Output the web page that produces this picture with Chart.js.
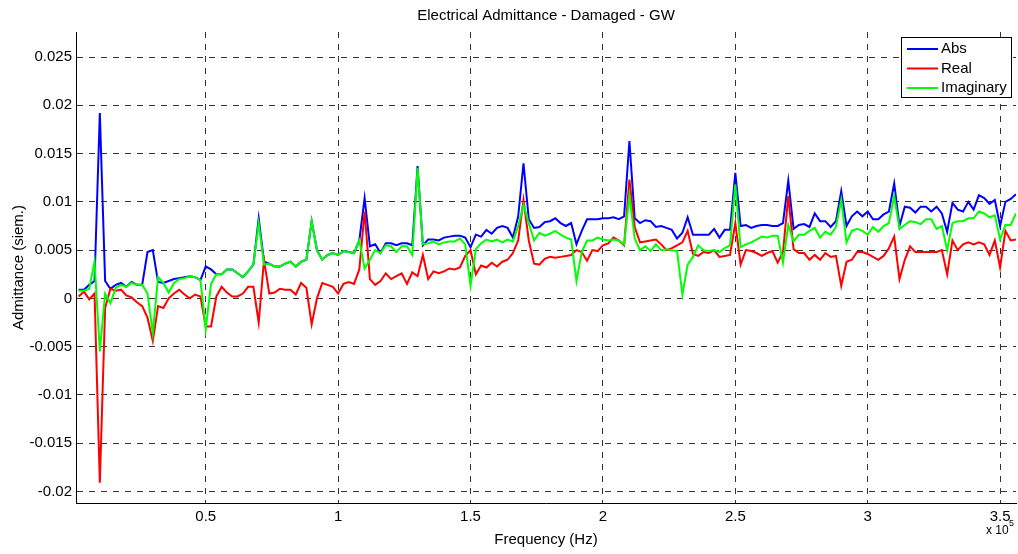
<!DOCTYPE html>
<html>
<head>
<meta charset="utf-8">
<title>Electrical Admittance - Damaged - GW</title>
<script src="https://cdn.jsdelivr.net/npm/chart.js@4.4.0/dist/chart.umd.min.js"></script>
<style>
  html, body { margin: 0; padding: 0; background: #fff; }
  #admChart { display: block; }
</style>
</head>
<body>
<canvas id="admChart" width="1018" height="554"></canvas>
<script>
// sweep: 2 kHz .. 356 kHz, one reading every 2 kHz (values in milli-siemens)
const freqStartHz = 2000;
const freqStepHz = 2000;

const absMilliS = [
  0.9, 0.9, 1.4, 1.8, 19.2, 1.8, 1.0, 1.4, 1.6, 1.2,
  1.7, 1.4, 1.4, 4.8, 5.0, 1.7, 1.6, 1.8, 2.0, 2.1,
  2.2, 2.3, 2.2, 1.9, 3.3, 3.0, 2.5, 2.5, 3.0, 3.0,
  2.6, 2.2, 2.8, 3.5, 8.3, 3.8, 3.6, 3.3, 3.3, 3.6,
  3.8, 3.3, 3.8, 4.0, 8.0, 5.0, 4.0, 4.5, 4.7, 4.5,
  4.9, 4.8, 4.7, 6.0, 10.4, 5.4, 5.6, 4.7, 5.7, 5.7,
  5.5, 5.7, 5.7, 5.5, 13.7, 5.5, 6.1, 6.1, 6.0, 6.3,
  6.4, 6.5, 6.5, 6.3, 5.3, 6.6, 6.4, 7.1, 6.7, 7.3,
  7.5, 7.3, 6.3, 8.5, 14.0, 8.2, 7.3, 7.4, 7.9, 8.0,
  8.3, 7.8, 7.5, 7.8, 5.6, 7.0, 8.2, 8.2, 8.2, 8.3,
  8.3, 8.4, 8.2, 8.5, 16.3, 8.3, 7.8, 8.1, 8.0, 7.4,
  7.5, 7.3, 7.1, 6.2, 6.8, 8.4, 6.6, 6.6, 6.6, 6.6,
  7.2, 6.3, 7.1, 7.1, 13.0, 7.5, 7.6, 7.3, 7.5, 7.6,
  7.6, 7.5, 7.5, 7.8, 12.2, 7.2, 7.6, 7.7, 7.4, 8.8,
  8.0, 8.0, 7.4, 8.0, 11.1, 7.5, 8.5, 9.0, 8.5, 9.0,
  8.2, 8.2, 8.7, 9.0, 11.9, 7.5, 9.5, 9.4, 8.9, 9.5,
  9.5, 9.0, 9.5, 8.8, 6.9, 9.9, 9.2, 9.0, 10.0, 9.2,
  10.7, 10.4, 9.8, 10.2, 7.5, 10.0, 10.3, 10.8
];

const realMilliS = [
  0.2, 0.7, -0.1, 0.5, -19.1, -1.0, 1.0, 0.8, 0.9, 0.3,
  0.1, -0.4, -0.8, -2.0, -4.4, -0.8, -1.0, 0.0, 0.5, 0.9,
  0.4, 0.0, 0.4, 0.2, -2.9, -2.9, 0.2, 1.2, 0.6, 0.2,
  0.2, 0.5, 1.2, 1.2, -2.5, 4.0, 0.5, 0.6, 1.0, 0.9,
  0.9, 0.4, 1.6, 1.1, -2.7, 0.0, 1.6, 1.4, 1.2, 0.5,
  1.5, 1.7, 1.5, 3.0, 9.0, 2.0, 1.4, 1.8, 2.6, 2.0,
  2.3, 2.6, 1.5, 2.7, 2.3, 4.5, 2.0, 2.8, 2.6, 2.8,
  3.1, 3.0, 3.2, 4.4, 5.0, 2.5, 3.4, 3.2, 3.7, 3.3,
  3.8, 4.0, 4.7, 6.0, 10.2, 6.0, 3.6, 3.5, 4.1, 4.3,
  4.2, 4.3, 4.4, 4.5, 5.0, 4.8, 3.9, 5.0, 4.9, 5.5,
  5.7, 6.3, 6.0, 5.5, 12.3, 7.4, 5.8, 5.9, 6.0, 6.1,
  5.6, 5.0, 5.2, 5.5, 5.8, 7.0, 4.6, 4.4, 4.8, 4.7,
  5.0, 4.3, 4.4, 4.5, 7.8, 3.5, 5.0, 4.9, 4.7, 4.4,
  4.7, 4.9, 3.7, 4.8, 10.6, 5.1, 4.7, 4.7, 4.0, 4.5,
  4.0, 4.7, 4.3, 4.4, 1.3, 3.8, 4.0, 4.8, 4.8, 4.6,
  4.3, 4.0, 4.4, 5.2, 6.4, 2.0, 4.0, 5.4, 4.8, 4.8,
  4.8, 4.8, 4.8, 5.0, 2.5, 6.0, 5.0, 5.6, 5.8, 5.6,
  5.8, 5.6, 4.5, 6.0, 3.2, 7.0, 6.0, 6.1
];

const imagMilliS = [
  0.8, 0.8, 1.0, 3.8, -5.5, 0.5, -0.5, 1.1, 1.4, 1.2,
  1.6, 1.4, 1.4, 0.5, -3.6, 2.2, 1.6, 0.6, 1.6, 2.0,
  2.1, 2.3, 2.2, 1.9, -3.2, 1.5, 2.5, 2.5, 3.0, 3.0,
  2.6, 2.2, 2.8, 3.5, 7.8, 3.5, 3.6, 3.3, 3.3, 3.6,
  3.8, 3.3, 3.8, 4.0, 8.0, 5.0, 4.0, 4.5, 4.7, 4.5,
  4.9, 4.8, 4.7, 6.0, 3.1, 4.0, 5.0, 4.7, 5.5, 5.4,
  4.8, 5.4, 5.4, 4.5, 13.5, 5.6, 5.7, 5.9, 5.6, 5.8,
  5.9, 5.9, 6.2, 5.6, 1.3, 5.1, 5.7, 6.1, 5.9, 6.1,
  5.8, 6.1, 5.9, 7.5, 9.7, 7.8, 6.0, 6.8, 6.5, 6.7,
  7.0, 6.6, 6.3, 6.1, 1.8, 4.8, 6.0, 6.0, 6.3, 6.1,
  6.0, 6.1, 6.0, 5.6, 10.7, 6.2, 5.0, 5.4, 4.9, 5.6,
  5.0, 5.1, 5.0, 4.9, 0.4, 3.5, 4.3, 5.5, 5.0, 4.9,
  5.0, 4.8, 5.2, 5.5, 11.8, 5.3, 5.6, 5.8, 6.1, 6.4,
  6.3, 6.5, 6.5, 3.7, 7.6, 5.9, 6.6, 6.6, 7.0, 7.3,
  6.3, 6.9, 6.6, 7.4, 10.2, 5.8, 7.0, 7.2, 7.0, 6.6,
  7.4, 6.9, 7.5, 7.8, 10.6, 7.2, 7.6, 8.0, 7.9, 7.7,
  8.2, 8.2, 7.2, 7.5, 5.0, 7.8, 8.0, 8.0, 8.3, 8.3,
  9.0, 8.8, 8.4, 8.6, 6.1, 7.6, 7.6, 8.8
];

const seriesNames = ['Abs', 'Real', 'Imaginary'];
const seriesColors = ['#0000ff', '#ff0000', '#00ff00'];

const xTickValues = [50000, 100000, 150000, 200000, 250000, 300000, 350000];
const xTickLabels = ['0.5', '1', '1.5', '2', '2.5', '3', '3.5'];
const yTickValues = [-0.02, -0.015, -0.01, -0.005, 0, 0.005, 0.01, 0.015, 0.02, 0.025];
const yTickLabels = ['-0.02', '-0.015', '-0.01', '-0.005', '0', '0.005', '0.01', '0.015', '0.02', '0.025'];

const titleText = 'Electrical Admittance - Damaged - GW';
const FONT = '"Liberation Sans", Arial, Helvetica, sans-serif';

const freqHz = absMilliS.map((_, i) => freqStartHz + i * freqStepHz);
const toPoints = vals => vals.map((v, i) => ({ x: freqHz[i], y: v / 1000 }));

Chart.defaults.font.family = FONT;
Chart.defaults.font.size = 15;
Chart.defaults.color = '#000';

// title, x10^5 exponent and the boxed legend, drawn the way matlab does it
const matlabBits = {
  id: 'matlabBits',
  afterDraw(chart) {
    const { ctx, chartArea: a } = chart;
    ctx.save();
    ctx.fillStyle = '#000';
    ctx.font = '15px ' + FONT;
    ctx.textAlign = 'center';
    ctx.textBaseline = 'middle';
    ctx.fillText(titleText, (a.left + a.right) / 2, 16);

    ctx.textAlign = 'left';
    ctx.textBaseline = 'alphabetic';
    ctx.font = '12px ' + FONT;
    ctx.fillText('x 10', 986, 534);
    ctx.font = '9px ' + FONT;
    ctx.fillText('5', 1009, 526);

    // legend box
    const bx = 901, by = 37, bw = 110, bh = 60;
    ctx.fillStyle = '#fff';
    ctx.fillRect(bx, by, bw, bh);
    ctx.strokeStyle = '#000';
    ctx.lineWidth = 1;
    ctx.strokeRect(bx + 0.5, by + 0.5, bw, bh);
    ctx.font = '15px ' + FONT;
    ctx.textBaseline = 'middle';
    seriesNames.forEach((name, i) => {
      const y = by + 12 + i * 19.5;
      ctx.strokeStyle = seriesColors[i];
      ctx.lineWidth = 2;
      ctx.beginPath();
      ctx.moveTo(bx + 6, y);
      ctx.lineTo(bx + 37, y);
      ctx.stroke();
      ctx.fillStyle = '#000';
      ctx.fillText(name, bx + 40, y);
    });
    ctx.restore();
  }
};

const admChart = new Chart(document.getElementById('admChart'), {
  type: 'line',
  data: {
    datasets: [
      { label: seriesNames[0], data: toPoints(absMilliS), borderColor: seriesColors[0], order: 2 },
      { label: seriesNames[1], data: toPoints(realMilliS), borderColor: seriesColors[1], order: 1 },
      { label: seriesNames[2], data: toPoints(imagMilliS), borderColor: seriesColors[2], order: 0 }
    ]
  },
  options: {
    responsive: false,
    animation: false,
    devicePixelRatio: 1,
    layout: { padding: { top: 32, right: 2, left: 0, bottom: 0 } },
    elements: {
      line: { borderWidth: 2, tension: 0, fill: false },
      point: { radius: 0 }
    },
    plugins: {
      legend: { display: false },
      title: { display: false },
      tooltip: { enabled: false }
    },
    scales: {
      x: {
        type: 'linear',
        min: 1000,
        max: 356000,
        afterFit: s => { s.height = 51; },
        afterBuildTicks: s => { s.ticks = xTickValues.map(v => ({ value: v })); },
        ticks: {
          padding: 5,
          maxRotation: 0,
          callback: (v, i) => xTickLabels[i]
        },
        grid: { color: 'rgba(0,0,0,0.8)', lineWidth: 1, drawTicks: false },
        border: { display: true, color: '#000', width: 1, dash: [6, 6] },
        title: { display: true, text: 'Frequency (Hz)', font: { size: 15 }, padding: { top: 0, bottom: 5 } }
      },
      y: {
        type: 'linear',
        min: -0.0212,
        max: 0.0276,
        afterFit: s => { s.width = 76; },
        afterBuildTicks: s => { s.ticks = yTickValues.map(v => ({ value: v })); },
        ticks: {
          padding: 4,
          callback: (v, i) => yTickLabels[i]
        },
        grid: { color: 'rgba(0,0,0,0.8)', lineWidth: 1, drawTicks: false },
        border: { display: true, color: '#000', width: 1, dash: [6, 6] },
        title: { display: true, text: 'Admittance (siem.)', font: { size: 15 }, padding: { top: 10, bottom: 0 } }
      }
    }
  },
  plugins: [matlabBits]
});
</script>
</body>
</html>
